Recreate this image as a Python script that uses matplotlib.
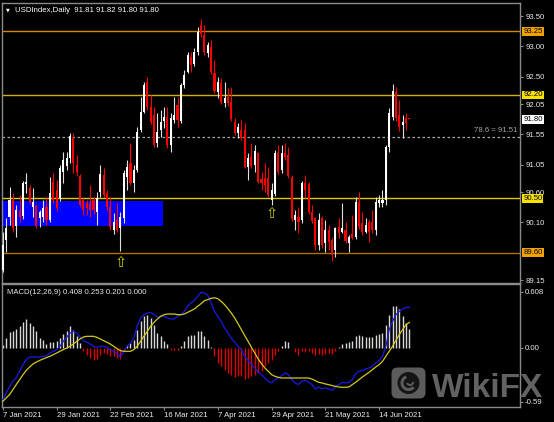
import matplotlib
matplotlib.use('Agg')
import matplotlib.pyplot as plt
import numpy as np
from matplotlib.patches import Rectangle, FancyBboxPatch, Circle, Wedge
from matplotlib.transforms import blended_transform_factory

# ---------------- data ----------------
opens = [
    89.32, 89.81, 90.19, 90.47, 90.04, 90.30, 90.20, 90.73, 90.67, 90.35,
    90.37, 90.17, 90.19, 90.35, 90.14, 90.77, 90.63, 90.50, 90.93, 91.03,
    91.16, 91.49, 91.05, 90.86, 90.47, 90.42, 90.42, 90.47, 90.27, 90.60,
    90.88, 90.58, 90.35, 89.97, 90.14, 90.01, 90.17, 90.85, 91.08, 90.75,
    90.96, 91.62, 91.92, 92.41, 92.00, 91.87, 91.41, 91.62, 91.77, 91.84,
    91.38, 91.79, 92.03, 91.77, 92.36, 92.58, 92.83, 92.71, 92.91, 93.35,
    93.19, 92.89, 92.99, 92.56, 92.25, 92.40, 92.07, 92.17, 92.08, 91.75,
    91.57, 91.62, 91.62, 91.01, 91.18, 91.05, 91.24, 90.81, 90.83, 90.83,
    90.47, 90.57, 91.24, 90.96, 91.24, 91.21, 90.85, 90.14, 90.19, 90.14,
    90.75, 90.73, 90.27, 90.17, 89.73, 90.17, 89.76, 89.97, 89.81, 89.65,
    90.02, 89.94, 89.97, 89.76, 89.91, 89.86, 90.44, 90.09, 89.94, 90.11,
    90.11, 89.97, 90.42, 90.42, 90.47, 91.34, 91.84, 92.25, 91.87, 91.70,
    91.82, 91.81]
highs = [
    89.94, 90.17, 90.68, 90.58, 90.39, 90.55, 90.78, 90.91, 90.72, 90.67,
    90.40, 90.30, 90.47, 90.52, 90.85, 90.91, 90.80, 91.05, 91.26, 91.26,
    91.57, 91.57, 91.21, 90.90, 90.50, 90.47, 90.72, 90.52, 90.60, 91.05,
    91.00, 90.63, 90.52, 90.26, 90.42, 90.27, 90.96, 91.13, 91.41, 91.05,
    91.67, 92.17, 92.41, 92.50, 92.20, 92.00, 91.90, 91.95, 92.00, 92.00,
    91.90, 92.17, 92.17, 92.40, 92.61, 92.91, 92.91, 92.97, 93.32, 93.45,
    93.35, 93.07, 93.10, 92.78, 92.50, 92.48, 92.41, 92.31, 92.33, 91.82,
    91.74, 91.79, 91.74, 91.24, 91.41, 91.38, 91.26, 90.93, 91.08, 91.01,
    90.75, 91.29, 91.38, 91.38, 91.41, 91.34, 90.88, 90.30, 90.35, 90.78,
    90.88, 90.77, 90.39, 90.19, 90.26, 90.21, 90.14, 90.06, 89.84, 90.02,
    90.17, 90.42, 90.11, 89.89, 90.22, 90.52, 90.60, 90.27, 90.17, 90.14,
    90.30, 90.52, 90.55, 90.63, 91.38, 91.98, 92.38, 92.33, 92.12, 91.87,
    91.90, 91.82]
lows = [
    89.28, 89.61, 90.06, 89.94, 89.86, 90.11, 90.16, 90.58, 90.40, 90.19,
    90.01, 90.02, 90.11, 90.06, 90.11, 90.42, 90.29, 90.45, 90.75, 90.96,
    91.08, 90.91, 90.86, 90.35, 90.22, 90.22, 90.19, 90.24, 90.06, 90.52,
    90.52, 90.30, 89.97, 89.91, 89.94, 89.63, 90.09, 90.63, 90.72, 90.60,
    90.93, 91.59, 91.90, 91.95, 91.72, 91.34, 91.34, 91.51, 91.66, 91.33,
    91.26, 91.74, 91.67, 91.74, 92.31, 92.56, 92.58, 92.68, 92.86, 93.15,
    92.86, 92.83, 92.54, 92.23, 92.15, 92.05, 92.00, 92.02, 91.77, 91.54,
    91.49, 91.46, 91.00, 90.80, 91.00, 90.93, 90.75, 90.63, 90.60, 90.52,
    90.39, 90.53, 90.90, 90.91, 91.13, 90.83, 90.12, 89.97, 89.92, 90.09,
    90.50, 90.24, 90.09, 89.65, 89.65, 89.68, 89.61, 89.65, 89.46, 89.53,
    89.84, 89.92, 89.76, 89.61, 89.83, 89.83, 89.99, 89.89, 89.92, 89.78,
    89.92, 89.89, 90.35, 90.35, 90.39, 91.26, 91.79, 91.77, 91.61, 91.49,
    91.62, 91.80]
closes = [
    89.73, 90.01, 90.47, 90.01, 90.30, 90.19, 90.75, 90.77, 90.44, 90.44,
    90.04, 90.27, 90.34, 90.14, 90.58, 90.47, 90.34, 91.00, 91.13, 91.16,
    91.52, 91.08, 90.93, 90.39, 90.30, 90.34, 90.30, 90.30, 90.50, 90.90,
    90.55, 90.35, 90.02, 90.11, 89.97, 90.19, 90.91, 91.01, 90.75, 90.96,
    91.59, 91.92, 92.36, 92.00, 91.75, 91.38, 91.59, 91.75, 91.84, 91.38,
    91.82, 91.87, 91.79, 92.36, 92.53, 92.86, 92.69, 92.91, 93.24, 93.20,
    92.91, 93.02, 92.58, 92.27, 92.41, 92.08, 92.15, 92.07, 91.80, 91.57,
    91.67, 91.49, 91.01, 91.16, 91.03, 91.28, 90.77, 90.75, 90.72, 90.55,
    90.63, 91.24, 90.93, 91.24, 91.18, 90.86, 90.16, 90.22, 90.11, 90.75,
    90.63, 90.27, 90.12, 89.73, 90.14, 89.73, 89.97, 89.78, 89.56, 90.01,
    89.92, 90.01, 89.79, 89.86, 89.84, 90.44, 90.02, 89.94, 90.06, 89.94,
    89.97, 90.44, 90.47, 90.47, 91.34, 91.90, 92.27, 91.82, 91.67, 91.75,
    91.74, 91.80]

macd_hist = [
    0.034, 0.107, 0.168, 0.187, 0.205, 0.234, 0.277, 0.314, 0.270, 0.241,
    0.179, 0.107, 0.081, 0.045, 0.060, 0.060, 0.070, 0.107, 0.154, 0.179,
    0.234, 0.198, 0.125, 0.052, -0.038, -0.075, -0.111, -0.129, -0.122, -0.075,
    -0.057, -0.064, -0.086, -0.093, -0.111, -0.122, -0.038, 0.034, 0.052, 0.089,
    0.198, 0.288, 0.343, 0.361, 0.325, 0.252, 0.161, 0.125, 0.070, 0.045,
    -0.020, -0.020, -0.020, 0.016, 0.070, 0.125, 0.143, 0.143, 0.179, 0.179,
    0.125, 0.081, 0.005, -0.093, -0.166, -0.202, -0.245, -0.275, -0.293, -0.322,
    -0.311, -0.311, -0.336, -0.329, -0.311, -0.293, -0.275, -0.256, -0.202, -0.166,
    -0.129, -0.075, -0.038, 0.016, 0.070, 0.060, -0.005, -0.049, -0.075, -0.038,
    -0.049, -0.038, -0.057, -0.075, -0.064, -0.075, -0.064, -0.057, -0.064, -0.038,
    0.005, 0.041, 0.052, 0.063, 0.078, 0.125, 0.143, 0.125, 0.118, 0.114,
    0.114, 0.143, 0.154, 0.161, 0.25, 0.36, 0.45, 0.45, 0.42, 0.35,
    0.27, 0.20]
macd_blue = [
    -0.565, -0.492, -0.420, -0.365, -0.329, -0.256, -0.184, -0.129, -0.100, -0.100,
    -0.100, -0.100, -0.093, -0.086, -0.057, -0.038, -0.020, 0.016, 0.070, 0.114,
    0.161, 0.179, 0.161, 0.118, 0.081, 0.060, 0.041, 0.016, 0.005, 0.016,
    0.016, 0.005, -0.020, -0.038, -0.064, -0.100, -0.038, 0.016, 0.052, 0.107,
    0.234, 0.325, 0.361, 0.379, 0.386, 0.361, 0.336, 0.343, 0.343, 0.325,
    0.314, 0.314, 0.343, 0.361, 0.397, 0.452, 0.488, 0.517, 0.561, 0.604,
    0.597, 0.575, 0.488, 0.397, 0.343, 0.288, 0.215, 0.161, 0.107, 0.060,
    0.016, -0.020, -0.093, -0.137, -0.184, -0.220, -0.267, -0.293, -0.329, -0.365,
    -0.383, -0.347, -0.329, -0.304, -0.275, -0.293, -0.347, -0.383, -0.401, -0.365,
    -0.354, -0.376, -0.401, -0.448, -0.427, -0.448, -0.437, -0.448, -0.463, -0.427,
    -0.401, -0.376, -0.383, -0.376, -0.347, -0.282, -0.256, -0.249, -0.231, -0.220,
    -0.202, -0.166, -0.137, -0.093, 0.016, 0.198, 0.288, 0.361, 0.397, 0.423,
    0.44, 0.44]
macd_yellow = [
    -0.583, -0.547, -0.510, -0.456, -0.401, -0.347, -0.293, -0.245, -0.209, -0.176,
    -0.155, -0.137, -0.122, -0.107, -0.093, -0.075, -0.057, -0.038, -0.020, -0.002,
    0.016, 0.041, 0.070, 0.096, 0.118, 0.125, 0.125, 0.125, 0.114, 0.096,
    0.078, 0.060, 0.041, 0.016, -0.009, -0.031, -0.038, -0.038, -0.038, -0.020,
    0.016, 0.070, 0.125, 0.179, 0.234, 0.277, 0.314, 0.343, 0.361, 0.368,
    0.368, 0.368, 0.361, 0.361, 0.368, 0.386, 0.404, 0.423, 0.452, 0.481,
    0.513, 0.525, 0.540, 0.545, 0.535, 0.506, 0.470, 0.426, 0.379, 0.325,
    0.263, 0.198, 0.132, 0.070, 0.005, -0.057, -0.122, -0.173, -0.220, -0.256,
    -0.293, -0.311, -0.322, -0.329, -0.329, -0.329, -0.329, -0.329, -0.329, -0.329,
    -0.329, -0.329, -0.340, -0.358, -0.376, -0.383, -0.394, -0.401, -0.412, -0.420,
    -0.427, -0.430, -0.430, -0.427, -0.401, -0.376, -0.347, -0.318, -0.293, -0.267,
    -0.238, -0.209, -0.184, -0.148, -0.093, -0.038, 0.016, 0.081, 0.143, 0.198,
    0.252, 0.277]

date_idx = [0, 16, 32, 48, 64, 80, 96, 112]
date_labels = ['7 Jan 2021', '29 Jan 2021', '22 Feb 2021', '16 Mar 2021',
               '7 Apr 2021', '29 Apr 2021', '21 May 2021', '14 Jun 2021']
price_ticks = [93.50, 93.00, 92.50, 92.05, 91.55, 91.05, 90.60, 90.10, 89.15]
level_prices = [93.25, 92.20, 90.50, 89.60]
level_line_colors = ['#d08c00', '#d4b000', '#e2c800', '#b07400']
level_box_colors = ['#f2a200', '#f8e000', '#f8e000', '#f2a200']
fib_level = 91.51
fib_text = '78.6 = 91.51'
zone_price = [90.045, 90.46]
zone_bars = [-5, 47.8]
arrow_bars = [35, 80]
arrow_prices = [89.44, 90.25]
macd_ticks = [0.608, 0.0, -0.59]
macd_tick_labels = ['0.608', '0.00', '-0.59']
title_text = 'USDIndex,Daily  91.81 91.82 91.80 91.80'
macd_text = 'MACD(12,26,9) 0.408 0.253 0.201 0.000'

# ---------------- figure ----------------
plt.rcParams['font.family'] = ['Liberation Sans', 'DejaVu Sans']
W, H = 554, 422
fig = plt.figure(figsize=(W / 100, H / 100), dpi=100, facecolor='black')


def fx(px):
    return px / W


def fy(py):
    return 1 - py / H


GRID = '#8a8a8a'
FS = 5.6
ax = fig.add_axes([fx(1.5), fy(283), fx(520) - fx(1.5), fy(3) - fy(283)])
ax2 = fig.add_axes([fx(1.5), fy(407), fx(520) - fx(1.5), fy(284) - fy(407)])
for a in (ax, ax2):
    a.set_facecolor('black')
    for s in a.spines.values():
        s.set_color(GRID)
        s.set_linewidth(1.0)

o = np.array(opens); h = np.array(highs); l = np.array(lows); c = np.array(closes)
x = np.arange(len(o))
xmin = -0.39
xmax = xmin + 518.5 / 3.36
ax.set_xlim(xmin, xmax)
ax2.set_xlim(xmin, xmax)
ax.set_ylim(89.102, 93.715)
ax2.set_ylim(-0.645, 0.695)

# zone rectangle
ax.add_patch(Rectangle((zone_bars[0], zone_price[0]), zone_bars[1] - zone_bars[0],
                       zone_price[1] - zone_price[0], facecolor='#0000ff',
                       edgecolor='none', zorder=1))

# level lines
for p, lc in zip(level_prices, level_line_colors):
    ax.axhline(p, color=lc, lw=1.0, zorder=2)
ax.axhline(fib_level, color='#a8a8a8', lw=0.9, ls=(0, (2, 2)), zorder=2)
ax.text(0.995, fib_level + 0.04, fib_text,
        transform=blended_transform_factory(ax.transAxes, ax.transData),
        ha='right', va='bottom', fontsize=FS, color='#a8a8a8', zorder=6)

# candles
up = c >= o
wick_col = np.where(up, '#e0e0e0', '#ff0000')
body_col = np.where(up, '#ffffff', '#ff0000')
ax.vlines(x, l, h, colors=wick_col, linewidth=0.8, zorder=4)
ax.bar(x, np.maximum(np.abs(c - o), 0.014), bottom=np.minimum(o, c), width=0.62,
       color=body_col, edgecolor='none', zorder=5)

# arrows
for b, p in zip(arrow_bars, arrow_prices):
    ax.text(b, p, '\u21e7', ha='center', va='center', fontsize=10.5, color='#d2d200',
            family='DejaVu Sans', zorder=6)

# price axis
ax.set_xticks([])
ax.yaxis.tick_right()
ax.set_yticks(price_ticks)
ax.set_yticklabels([f'{v:.2f}' for v in price_ticks])
ax.tick_params(axis='y', direction='out', length=2.2, width=0.8, color=GRID,
               labelcolor='#e8e8e8', labelsize=FS, pad=1.5)
bt = blended_transform_factory(ax.transAxes, ax.transData)
for p, bc in zip(level_prices, level_box_colors):
    ax.text(1 + 3.2 / 518.5, p, f'{p:.2f}', transform=bt, ha='left', va='center',
            fontsize=FS, color='black', clip_on=False, zorder=10,
            bbox=dict(boxstyle='square,pad=0.12', fc=bc, ec='none'))
ax.text(1 + 3.2 / 518.5, closes[-1], f'{closes[-1]:.2f}', transform=bt, ha='left',
        va='center', fontsize=FS, color='black', clip_on=False, zorder=10,
        bbox=dict(boxstyle='square,pad=0.12', fc='white', ec='none'))

# MACD panel
hist = np.array(macd_hist)
ax2.vlines(x, 0, hist, colors=np.where(hist >= 0, '#d8d8d8', '#e00000'),
           linewidth=1.0, zorder=2)
ax2.plot(x, macd_blue, color='#1a1ae6', lw=0.9, zorder=3)
ax2.plot(x, macd_yellow, color='#d4c81e', lw=0.9, zorder=3)
ax2.yaxis.tick_right()
ax2.set_yticks(macd_ticks)
ax2.set_yticklabels(macd_tick_labels)
ax2.tick_params(axis='y', direction='out', length=2.2, width=0.8, color=GRID,
                labelcolor='#e8e8e8', labelsize=FS, pad=1.5)
ax2.set_xticks(date_idx)
ax2.set_xticklabels(date_labels, ha='left')
ax2.tick_params(axis='x', direction='out', length=2.5, width=0.8, color=GRID,
                labelcolor='#f0f0f0', labelsize=FS, pad=1.2)

# titles
fig.text(fx(5.5), fy(9.5), '\u25bc', fontsize=3.5, color='white', va='center',
         family='DejaVu Sans')
fig.text(fx(15), fy(10), title_text, fontsize=FS, color='white', va='center')
fig.text(fx(7), fy(293), macd_text, fontsize=FS, color='#e8e8e8', va='center')

# watermark
lax = fig.add_axes([fx(390), fy(400), fx(37), 34 / H])
lax.set_xlim(0, 37)
lax.set_ylim(0, 34)
lax.axis('off')
lax.add_patch(FancyBboxPatch((1.5, 1.5), 34, 31, boxstyle='round,pad=0,rounding_size=6',
                             fc='#5c5c5c', ec='none'))
lax.add_patch(Circle((18.5, 17), 11, fc='#151515', ec='none'))
lax.add_patch(Wedge((18.5, 17), 8, 110, 320, width=3, fc='#5c5c5c', ec='none'))
lax.add_patch(Wedge((20, 18), 4, 200, 360, width=2, fc='#5c5c5c', ec='none'))
fig.text(fx(432), fy(397), 'WikiFX', fontsize=24, fontweight='bold', color='#626262',
         va='baseline', ha='left', family=['Liberation Sans', 'DejaVu Sans'])

fig.savefig('out.png', dpi=100, facecolor='black')
